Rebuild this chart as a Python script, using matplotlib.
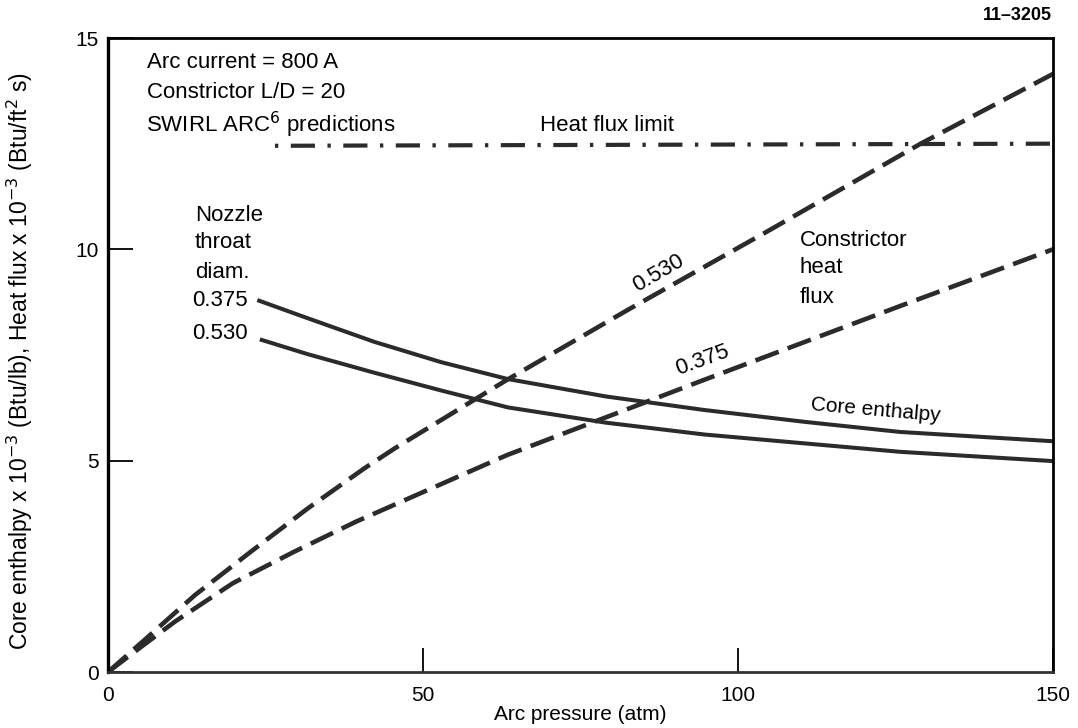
import numpy as np
import matplotlib
matplotlib.use("Agg")
from matplotlib import pyplot as plt

plt.rcParams['font.family'] = ['Liberation Sans', 'DejaVu Sans']

# core enthalpy (solid), nozzle throat diam 0.375 and 0.530
p_core_375 = [23.7, 31.7, 42.3, 52.9, 63.5, 79.0, 94.6, 110.5, 125.7, 150]
core_375 = [8.80, 8.37, 7.81, 7.33, 6.93, 6.52, 6.20, 5.92, 5.68, 5.46]
p_core_530 = [24.1, 31.7, 42.3, 52.9, 63.5, 79.0, 94.6, 110.5, 125.7, 150]
core_530 = [7.87, 7.52, 7.08, 6.66, 6.26, 5.90, 5.62, 5.41, 5.21, 4.99]

# constrictor heat flux (dashed)
p_flux_530 = [0, 5.8, 13.8, 22.7, 31.7, 40.7, 45.5, 63.3, 82.3, 104.6, 129, 150]
flux_530 = [0, 0.76, 1.82, 2.85, 3.87, 4.82, 5.29, 6.91, 8.55, 10.42, 12.5, 14.15]
p_flux_375 = [0, 5.3, 10.6, 19.8, 29.6, 39.4, 63.3, 94.4, 125.4, 150]
flux_375 = [0, 0.60, 1.19, 2.10, 2.85, 3.56, 5.13, 6.90, 8.64, 10.0]

# heat flux limit
p_limit = [26.5, 150]
limit = [12.45, 12.5]

xticks = [0, 50, 100, 150]
yticks = [0, 5, 10, 15]

fig = plt.figure(figsize=(10.78, 7.28), dpi=100)
ax = fig.add_axes([0.1002, 0.0769, 0.8766, 0.8709])

col = '#2b2b2b'
dash = (0, (5.4, 2.1))
ax.plot(p_core_375, core_375, color=col, lw=2.9, solid_capstyle='butt')
ax.plot(p_core_530, core_530, color=col, lw=2.9, solid_capstyle='butt')
ax.plot(p_flux_530, flux_530, color=col, lw=3.3, ls=dash, dash_capstyle='butt')
ax.plot(p_flux_375, flux_375, color=col, lw=3.3, ls=dash, dash_capstyle='butt')
ax.plot(p_limit, limit, color=col, lw=3.0, ls=(0, (0.8, 3.0, 5.8, 3.0)), dash_capstyle='butt')

ax.set_xlim(0, 150)
ax.set_ylim(0, 15)
ax.set_xticks(xticks)
ax.set_yticks(yticks)
ax.set_xticklabels([str(t) for t in xticks], fontsize=15)
ax.set_yticklabels([str(t) for t in yticks], fontsize=15)
ax.tick_params(axis='x', direction='in', length=17, width=1.3, pad=10)
ax.tick_params(axis='y', direction='in', length=18, width=1.3, pad=6.5)
for s in ax.spines.values():
    s.set_linewidth(2.0)
ax.spines['left'].set_linewidth(2.4)
ax.spines['bottom'].set_color('#333333')

ax.set_xlabel('Arc pressure (atm)', fontsize=15, labelpad=0)
ax.set_ylabel(r'Core enthalpy x 10$^{-3}$ (Btu/lb), Heat flux x 10$^{-3}$ (Btu/ft$^2$ s)',
              fontsize=16.5)
ax.yaxis.set_label_coords(-0.077, 0.49)

tk = dict(fontsize=16, va='center', ha='left')
ax.text(6.2, 14.41, 'Arc current = 800 A', **tk)
ax.text(6.2, 13.72, 'Constrictor L/D = 20', **tk)
ax.text(6.0, 12.94, r'SWIRL ARC$^6$ predictions', **tk)
ax.text(68.6, 12.94, 'Heat flux limit', **tk)

ax.text(13.8, 10.81, 'Nozzle', **tk)
ax.text(13.8, 10.15, 'throat', **tk)
ax.text(13.8, 9.46, 'diam.', **tk)
ax.text(22.2, 8.80, '0.375', ha='right', va='center', fontsize=16)
ax.text(22.2, 8.02, '0.530', ha='right', va='center', fontsize=16)

ax.text(87.3, 9.44, '0.530', rotation=30, ha='center', va='center', fontsize=16)
ax.text(94.4, 7.38, '0.375', rotation=20, ha='center', va='center', fontsize=16)

ax.text(109.8, 10.22, 'Constrictor', **tk)
ax.text(109.8, 9.56, 'heat', **tk)
ax.text(109.8, 8.87, 'flux', **tk)
ax.text(121.9, 6.2, 'Core enthalpy', rotation=-5, ha='center', va='center', fontsize=15)

fig.text(1052 / 1078, 1 - 15 / 728, '11\u20133205', ha='right', va='center',
         fontsize=13, fontweight='bold')

plt.savefig('out.png', dpi=100)
